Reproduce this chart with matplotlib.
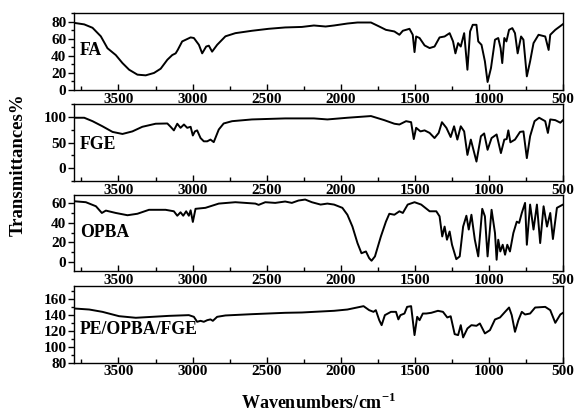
import numpy as np
import matplotlib.pyplot as plt
from matplotlib.ticker import MultipleLocator

plt.rcParams['font.family'] = ['Liberation Serif', 'DejaVu Serif']
plt.rcParams['font.weight'] = 'bold'
plt.rcParams['mathtext.fontset'] = 'custom'
plt.rcParams['mathtext.rm'] = 'Liberation Serif:bold'
plt.rcParams['mathtext.bf'] = 'Liberation Serif:bold'

# FA spectrum (wavenumber, transmittance)
fa_wn = [3800, 3731, 3675, 3619, 3574, 3518, 3473, 3428, 3372, 3316, 3260, 3215, 3170,
         3137, 3114, 3100, 3070, 3013, 2991, 2957, 2935, 2908, 2890, 2868, 2834, 2778,
         2711, 2599, 2487, 2375, 2262, 2181, 2102, 2045, 1955, 1887, 1796, 1740, 1695,
         1638, 1604, 1581, 1536, 1514, 1502, 1491, 1468, 1434, 1400, 1367, 1333, 1299,
         1265, 1242, 1226, 1208, 1190, 1167, 1145, 1127, 1109, 1084, 1072, 1050, 1027,
         1009, 986, 959, 937, 921, 910, 896, 882, 864, 842, 824, 806, 783, 767, 744,
         722, 699, 665, 620, 597, 586, 552, 500]
fa_t = [78.8, 77, 73, 63, 49, 41, 31.6, 23.8, 18, 17.2, 20, 25, 35.5,
        41, 43, 47, 57, 61.7, 61, 53, 43, 51, 52, 45, 53, 63,
        66.7, 69.5, 71.8, 73.4, 74, 75.7, 74.5, 75.7, 78, 79.2, 79.2, 74.5, 70.6,
        68.7, 64.8, 69.5, 71.8, 64.8, 44.5, 62.8, 61, 52.3, 49.2, 51, 61.7, 62.8,
        66.7, 57, 43, 55, 51, 66.7, 23.8, 68.7, 76.5, 76.5, 57, 53, 33.6,
        9.4, 25.8, 59, 61, 49, 31.6, 61, 57, 70.6, 72.6, 66.7, 43, 62.8, 59, 16,
        33.6, 55, 64.8, 62.8, 47, 64.8, 70.6, 77.3]

# FGE spectrum
fge_wn = [3800, 3731, 3675, 3608, 3540, 3473, 3406, 3339, 3249, 3170, 3148, 3126, 3103,
          3081, 3058, 3036, 3013, 2998, 2984, 2969, 2946, 2924, 2901, 2879, 2857, 2823,
          2790, 2733, 2599, 2375, 2181, 2090, 1955, 1796, 1706, 1638, 1604, 1559, 1525,
          1507, 1491, 1462, 1434, 1400, 1367, 1339, 1317, 1287, 1258, 1235, 1213, 1190,
          1167, 1145, 1122, 1084, 1054, 1032, 1009, 982, 948, 919, 896, 880, 869, 855,
          824, 790, 767, 744, 722, 692, 661, 620, 602, 586, 552, 518, 500]
fge_t = [98.7, 98.7, 92, 82, 71, 67, 72, 81, 87, 87.5, 81, 74, 87,
         79, 85.5, 79, 81, 64, 72, 74, 59, 52.6, 52.6, 56, 51, 75.7,
         87.5, 92, 95.4, 97.4, 97.4, 95.4, 98.7, 102, 94, 87, 85.5, 92, 90,
         57, 79, 72, 74, 69, 59, 69, 90, 79, 61, 82, 56, 82,
         72, 26, 56, 13, 62.5, 68, 36, 59, 66, 29.6, 56, 57, 74, 50.7,
         56, 71, 72, 19.7, 62.5, 92, 98.7, 92, 69, 95.4, 94, 89, 94]

# OPBA spectrum
opba_wn = [3800, 3720, 3652, 3612, 3585, 3518, 3439, 3372, 3294, 3182, 3126, 3103, 3081,
           3063, 3043, 3025, 3013, 2998, 2980, 2913, 2823, 2711, 2576, 2554, 2509, 2442,
           2375, 2330, 2285, 2240, 2195, 2136, 2090, 2045, 1989, 1955, 1921, 1887, 1860,
           1830, 1808, 1792, 1769, 1729, 1695, 1672, 1638, 1604, 1581, 1548, 1502, 1457,
           1400, 1355, 1333, 1315, 1299, 1283, 1265, 1249, 1220, 1197, 1174, 1152, 1136,
           1118, 1095, 1072, 1045, 1027, 1009, 982, 959, 948, 937, 923, 907, 891, 876,
           858, 835, 812, 796, 778, 756, 744, 722, 699, 676, 654, 631, 608, 586, 568,
           541, 500]
opba_t = [61.7, 60.7, 56.6, 49.8, 52.2, 49.8, 47.5, 49, 53, 53, 51.5, 47, 50.5,
          47, 51.5, 47, 52.5, 40.7, 54, 55, 59.3, 60.7, 59.3, 58, 60.7, 60,
          61.4, 60, 62.4, 63.4, 60.7, 58.3, 59.3, 58.3, 55, 48, 36, 19.3, 9,
          10.8, 4, 1.4, 5.8, 26, 41, 49, 48, 51.5, 49.8, 58.3, 60.7, 58.3,
          51.5, 51.5, 46.4, 26, 36, 22.7, 31, 17.6, 3, 5.8, 36, 47, 33,
          48, 22.7, 5.8, 54, 46.4, 5.8, 53, 29.5, 2.4, 22.7, 10.8, 17.6, 7.5, 17.6,
          10.8, 29.5, 41, 39.7, 49.8, 60, 17.6, 58.3, 33, 58.3, 19.3, 56.6, 36, 49.8, 23.4,
          55, 58.3]

# PE/OPBA/FGE spectrum
pe_wn = [3800, 3697, 3608, 3496, 3383, 3271, 3159, 3025, 2991, 2969, 2946, 2924, 2901,
         2879, 2863, 2834, 2778, 2599, 2375, 2262, 2181, 2045, 1955, 1846, 1808, 1779,
         1763, 1740, 1724, 1702, 1661, 1627, 1611, 1597, 1570, 1552, 1525, 1502, 1484,
         1468, 1446, 1423, 1389, 1344, 1310, 1281, 1258, 1231, 1208, 1190, 1174, 1145,
         1118, 1084, 1061, 1027, 993, 959, 925, 891, 864, 846, 824, 801, 778, 756, 722,
         688, 620, 586, 552, 518, 500]
pe_t = [147.6, 146.3, 143.4, 138, 136, 137.2, 138.4, 139.3, 137.2, 131, 132.2, 131, 133,
        134, 132.2, 137.2, 138.9, 140.5, 142.2, 142.6, 143.4, 144.7, 146.3, 150.5, 145.5, 143.4,
        145.5, 133, 126.8, 139.3, 143.4, 143.4, 134, 139.3, 141.3, 149.6, 150.5, 114.4, 137.2,
        133, 141.3, 141.3, 142.2, 144.7, 143.4, 136.4, 137.9, 115.6, 114.4, 126.8, 111.5, 122.7,
        126.8, 126, 128.9, 116.5, 120.6, 133.9, 136.4, 143.4, 148.8, 139.3, 118.5, 133, 143.4, 140.1, 141.3,
        148.8, 149.6, 145.5, 129.7, 140.1, 142.2]

labels = ['FA', 'FGE', 'OPBA', 'PE/OPBA/FGE']
series = [(fa_wn, fa_t), (fge_wn, fge_t), (opba_wn, opba_t), (pe_wn, pe_t)]
ylims = [(0, 90), (-25, 125), (-9, 68), (80, 176)]
ymajor = [20, 50, 20, 20]
yminor = [10, 25, 10, 10]
label_y = [0.51, 0.47, 0.50, 0.43]

# axes boxes in pixels (top, bottom)
W, H = 574, 413
boxes = [(13.3, 90), (104.3, 181), (195, 271), (285.7, 362.7)]
left, right = 74, 563

fig = plt.figure(figsize=(W / 100, H / 100), dpi=100)

for i in range(4):
    top, bot = boxes[i]
    ax = fig.add_axes([left / W, 1 - bot / H, (right - left) / W, (bot - top) / H])
    wn, t = series[i]
    ax.plot(wn, t, color='black', lw=1.4)
    ax.set_xlim(3800, 500)
    ax.set_ylim(*ylims[i])
    ax.xaxis.set_major_locator(MultipleLocator(500))
    ax.xaxis.set_minor_locator(MultipleLocator(250))
    ax.yaxis.set_major_locator(MultipleLocator(ymajor[i]))
    ax.yaxis.set_minor_locator(MultipleLocator(yminor[i]))
    ax.tick_params(axis='x', which='major', direction='in', length=4.5, width=1, labelsize=11, pad=2)
    ax.tick_params(axis='x', which='minor', direction='in', length=3, width=1)
    ax.tick_params(axis='y', which='major', direction='out', length=4, width=1, labelsize=11, pad=1.5)
    ax.tick_params(axis='y', which='minor', direction='out', length=2.5, width=1)
    for s in ax.spines.values():
        s.set_linewidth(1)
    for lab in ax.get_xticklabels() + ax.get_yticklabels():
        lab.set_fontweight('bold')
    ax.text(0.012, label_y[i], labels[i], transform=ax.transAxes, fontsize=12.8,
            fontweight='bold', va='center', ha='left')

fig.text(18 / W, 1 - 165 / H, 'Transmittances%', rotation=90, fontsize=13.5,
         fontweight='bold', ha='center', va='center')
fig.text((left + right) / 2 / W, 1 - 403 / H, 'Wavenumbers/cm$^{-1}$', fontsize=13,
         fontweight='bold', ha='center', va='center')

plt.savefig('out.png', dpi=100)
